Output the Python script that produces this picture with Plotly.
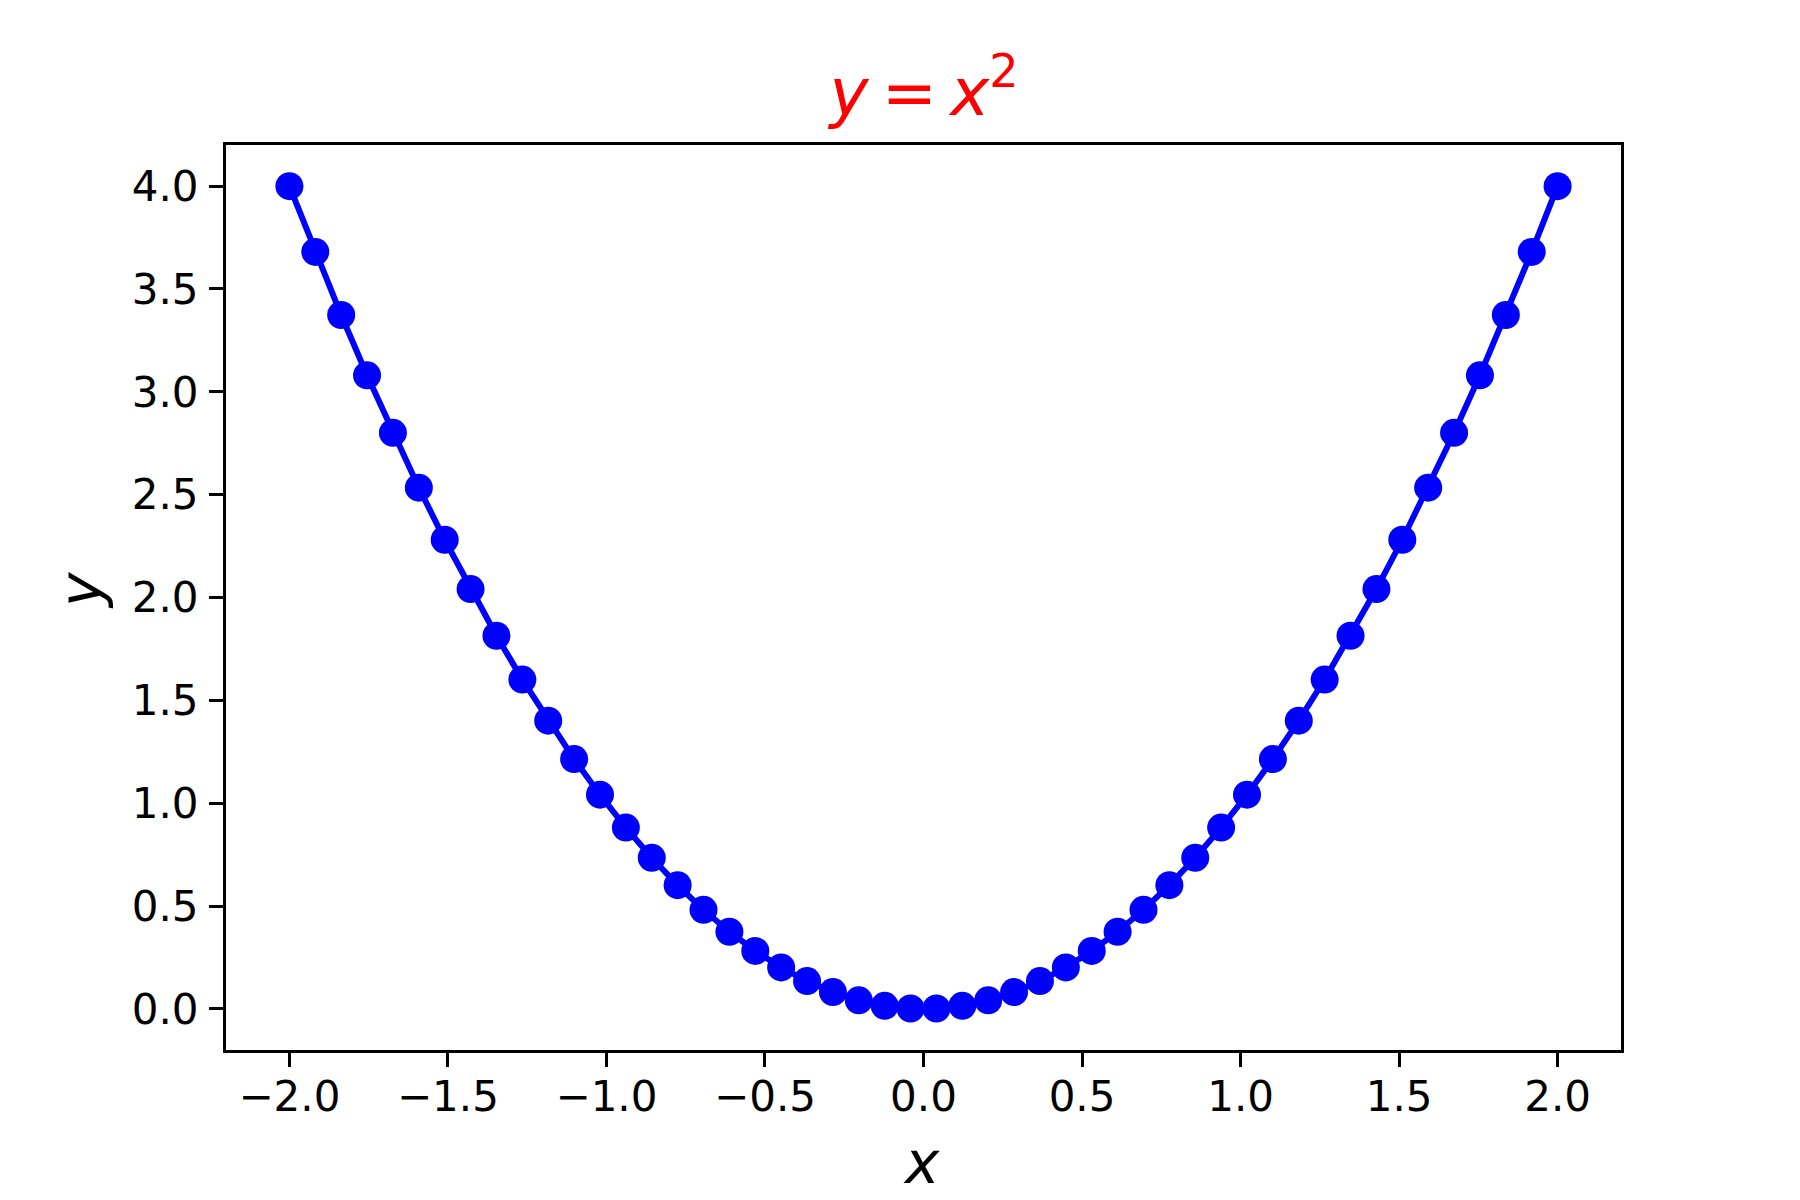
import plotly.graph_objects as go

x_vals = [-2.0, -1.9184, -1.8367, -1.7551, -1.6735, -1.5918, -1.5102, -1.4286, -1.3469, -1.2653,
          -1.1837, -1.1020, -1.0204, -0.9388, -0.8571, -0.7755, -0.6939, -0.6122, -0.5306, -0.4490,
          -0.3673, -0.2857, -0.2041, -0.1224, -0.0408,
          0.0408, 0.1224, 0.2041, 0.2857, 0.3673, 0.4490, 0.5306, 0.6122, 0.6939, 0.7755,
          0.8571, 0.9388, 1.0204, 1.1020, 1.1837, 1.2653, 1.3469, 1.4286, 1.5102, 1.5918,
          1.6735, 1.7551, 1.8367, 1.9184, 2.0]
y_vals = [4.0, 3.6801, 3.3735, 3.0804, 2.8006, 2.5339, 2.2807, 2.0409, 1.8141, 1.6010,
          1.4011, 1.2144, 1.0412, 0.8813, 0.7346, 0.6014, 0.4815, 0.3748, 0.2815, 0.2016,
          0.1349, 0.0816, 0.0417, 0.0150, 0.0017,
          0.0017, 0.0150, 0.0417, 0.0816, 0.1349, 0.2016, 0.2815, 0.3748, 0.4815, 0.6014,
          0.7346, 0.8813, 1.0412, 1.2144, 1.4011, 1.6010, 1.8141, 2.0409, 2.2807, 2.5339,
          2.8006, 3.0804, 3.3735, 3.6801, 4.0]
x_ticks = [-2.0, -1.5, -1.0, -0.5, 0.0, 0.5, 1.0, 1.5, 2.0]
y_ticks = [0.0, 0.5, 1.0, 1.5, 2.0, 2.5, 3.0, 3.5, 4.0]

FONT = "DejaVu Sans"
W, H = 1792, 1192
OFF = 8  # page body margin

fig = go.Figure()
fig.add_trace(go.Scatter(
    x=x_vals, y=y_vals, mode="lines+markers",
    line=dict(color="#0000ff", width=6),
    marker=dict(color="#0000ff", size=28),
    showlegend=False,
))

axis_common = dict(
    showline=True, linecolor="black", linewidth=3, mirror=True,
    ticks="outside", ticklen=14, tickwidth=3, tickcolor="black",
    showgrid=False, zeroline=False,
    tickfont=dict(family=FONT, size=42, color="black"),
)

L, T, PW, PH = 225 - OFF + 1, 145 - OFF, 1395, 905

fig.update_layout(
    width=W, height=H,
    margin=dict(l=L, r=W - L - PW, t=T, b=H - T - PH),
    paper_bgcolor="white", plot_bgcolor="white",
    font=dict(family=FONT, color="black"),
    title=dict(
        text="<i>y</i>\u2009=\u2009<i>x</i><sup>2</sup>",
        font=dict(family=FONT, size=66, color="#ff0000"),
        x=(924 - OFF) / W, xanchor="center",
        y=1 - (92 - OFF) / H, yanchor="middle",
    ),
    xaxis=dict(range=[-2.2, 2.2], tickvals=x_ticks,
               ticktext=[f"{v:.1f}".replace("-", "\u2212") for v in x_ticks],
               ticklabelstandoff=-6,
               **axis_common),
    yaxis=dict(range=[-0.2, 4.2], tickvals=y_ticks,
               ticktext=[f"{v:.1f}" for v in y_ticks],
               ticklabelstandoff=2,
               **axis_common),
    annotations=[
        dict(text="<i>x</i>", xref="paper", yref="paper",
             x=(920 - 225) / PW, y=-(1163 - 1050) / PH,
             xanchor="center", yanchor="middle", showarrow=False,
             font=dict(family=FONT, size=58, color="black")),
        dict(text="<i>y</i>", xref="paper", yref="paper",
             x=-(225 - 80) / PW, y=(1050 - 591) / PH,
             xanchor="center", yanchor="middle", showarrow=False, textangle=-90,
             font=dict(family=FONT, size=58, color="black")),
    ],
)

fig.write_html("out.html")
